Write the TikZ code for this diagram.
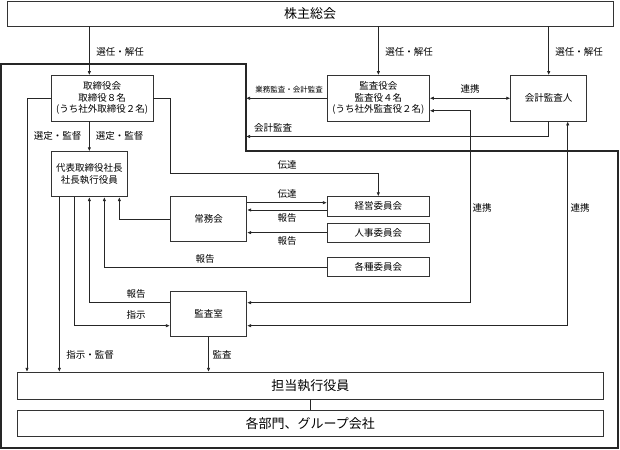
\documentclass[tikz,border=0pt]{standalone}
\usepackage{fontspec}
\setmainfont{Noto Sans CJK JP}
\usetikzlibrary{arrows.meta}

\begin{document}
\begin{tikzpicture}[x=1pt, y=-1pt,
		box/.style={draw=black!80, line width=0.8pt, rectangle, inner sep=0pt, align=center, font=\fontsize{9.5}{11.5}\selectfont},
		bigbox/.style={box, font=\fontsize{13}{15}\selectfont},
		lbl/.style={inner sep=0pt, font=\fontsize{9.5}{11.5}\selectfont},
		arr/.style={draw=black!85, line width=0.7pt, -{Latex[length=4pt,width=3.4pt]}},
		biarr/.style={draw=black!85, line width=0.7pt, {Latex[length=4pt,width=3.4pt]}-{Latex[length=4pt,width=3.4pt]}},
		wire/.style={draw=black!85, line width=0.7pt}]
		\useasboundingbox ( 0, 0 ) rectangle ( 620, 449 );

		% рамка
		\draw [line width=1.1pt, black!85] ( 1, 64 ) -- ( 246, 64 ) -- ( 246, 151 ) -- ( 618, 151 ) -- ( 618, 448 ) -- ( 1, 448 ) -- cycle;
		\coordinate (fcorner) at ( 246, 64 );
		\coordinate (xleft) at ( 27, 0 );

		% блоки
		\node [bigbox, minimum width=606, minimum height=24.5] (sh) at ( 310, 13.75 ) {株主総会};
		\node [box, minimum width=102, minimum height=45.5] (tori) at ( 102, 98.25 ) {取締役会\\取締役８名\\(うち社外取締役２名)};
		\node [box, minimum width=102, minimum height=45.5] (kansa) at ( 378.4, 98.25 ) {監査役会\\監査役４名\\(うち社外監査役２名)};
		\node [box, minimum width=76, minimum height=45.5] (kaikei) at ( 548.7, 98.25 ) {会計監査人};
		\node [box, minimum width=76.7, minimum height=45] (daihyo) at ( 89.35, 174.2 ) {代表取締役社長\\社長執行役員};
		\node [box, minimum width=76.2, minimum height=45] (jomu) at ( 208.6, 219.2 ) {常務会};
		\node [box, minimum width=102, minimum height=19.3] (keiei) at ( 378.3, 206.35 ) {経営委員会};
		\node [box, minimum width=102, minimum height=18.7] (jinji) at ( 378.3, 232.65 ) {人事委員会};
		\node [box, minimum width=102, minimum height=19.4] (kakushu) at ( 378.3, 267 ) {各種委員会};
		\node [box, minimum width=76.4, minimum height=45] (shitsu) at ( 208.5, 314.2 ) {監査室};
		\node [bigbox, minimum width=586, minimum height=26.7] (tanto) at ( 310.3, 385.65 ) {担当執行役員};
		\node [bigbox, minimum width=586, minimum height=26.4] (bumon) at ( 310.3, 423.5 ) {各部門、グループ会社};

		% от собрания акционеров
		\draw [arr] (sh.south -| daihyo) -- (tori.north -| daihyo);
		\draw [arr] (sh.south -| kansa) -- (kansa.north);
		\draw [arr] (sh.south -| kaikei) -- (kaikei.north);
		\node [lbl] (l1) at ( 120, 52 ) {選任・解任};
		\node [lbl] (l2) at ( 409, 52 ) {選任・解任};
		\node [lbl] (l3) at ( 579, 52 ) {選任・解任};

		% аудит
		\draw [arr] (kansa.west) -- (kansa.west -| fcorner);
		\node [lbl, font=\fontsize{7.5}{9}\selectfont] (l4) at ( 289, 89.3 ) {業務監査・会計監査};
		\draw [arr] (kaikei.south) |- ( 246, 136.5 );
		\node [lbl] (l5) at ( 273, 127.7 ) {会計監査};
		\draw [biarr] (kansa.east) -- (kaikei.west);
		\node [lbl] (l6) at ( 470, 89.3 ) {連携};

		% совет директоров
		\draw [arr] (tori.south -| daihyo) -- (daihyo.north);
		\node [lbl] (l7) at ( 57.5, 136 ) {選定・監督};
		\node [lbl] (l8) at ( 119.5, 136 ) {選定・監督};
		\draw [arr] (tori.west) -| (tanto.north -| xleft);
		\draw [arr] (tori.east) -| ( 170.7, 173.3 ) -| (keiei.north);
		\node [lbl] (l9) at ( 287, 165 ) {伝達};

		% президент
		\draw [arr] ([xshift=-30pt]daihyo.south) -- ([xshift=-30pt]daihyo.south |- tanto.north);
		\node [lbl] (l10) at ( 90, 355 ) {指示・監督};
		\draw [arr] ([xshift=-15pt]daihyo.south) |- ([yshift=-11.5pt]shitsu.west);
		\node [lbl] (l11) at ( 136, 315 ) {指示};
		\draw [arr] ([yshift=11.5pt]shitsu.west) -| (daihyo.south);
		\node [lbl] (l12) at ( 136, 294 ) {報告};
		\draw [arr] (kakushu.west) -| ([xshift=15pt]daihyo.south);
		\node [lbl] (l13) at ( 205, 259 ) {報告};
		\draw [arr] (jomu.west) -| ([xshift=30pt]daihyo.south);

		% комитеты
		\draw [arr] ([yshift=16.5pt]jomu.east) -- ([yshift=16.5pt]jomu.east -| keiei.west);
		\node [lbl] (l14) at ( 287, 194 ) {伝達};
		\draw [arr] ([yshift=9.2pt]jomu.east -| keiei.west) -- ([yshift=9.2pt]jomu.east);
		\node [lbl] (l15) at ( 287, 217.7 ) {報告};
		\draw [arr] (jinji.west) -- (jinji.west -| jomu.east);
		\node [lbl] (l16) at ( 287, 241 ) {報告};

		% отдел аудита
		\draw [biarr] ([yshift=-12.5pt]kansa.east) -- ++( 40.7, 0 ) |- ([yshift=11.5pt]shitsu.east);
		\node [lbl] (l17) at ( 482, 208 ) {連携};
		\draw [biarr] ([xshift=19pt]kaikei.south) |- ([yshift=-11.5pt]shitsu.east);
		\node [lbl] (l18) at ( 580, 208 ) {連携};
		\draw [arr] (shitsu.south) -- (shitsu.south |- tanto.north);
		\node [lbl] (l19) at ( 222, 355 ) {監査};

		% исполнительные директора
		\draw [wire] (tanto.south) -- (bumon.north);
	\end{tikzpicture}
\end{document}
